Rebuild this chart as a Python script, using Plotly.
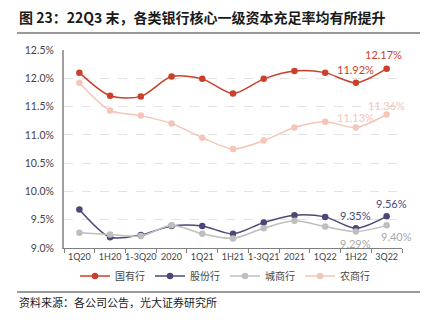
import plotly.graph_objects as go

categories = ["1Q20", "1H20", "1-3Q20", "2020", "1Q21", "1H21", "1-3Q21", "2021", "1Q22", "1H22", "3Q22"]
guoyou = [12.10, 11.69, 11.68, 12.03, 11.99, 11.73, 11.99, 12.13, 12.10, 11.92, 12.17]
gufen = [9.68, 9.19, 9.23, 9.39, 9.39, 9.25, 9.45, 9.58, 9.55, 9.35, 9.56]
chengshang = [9.27, 9.24, 9.21, 9.40, 9.25, 9.17, 9.35, 9.48, 9.38, 9.29, 9.40]
nongshang = [11.92, 11.43, 11.34, 11.20, 10.95, 10.75, 10.90, 11.13, 11.23, 11.13, 11.36]

names = ["国有行", "股份行", "城商行", "农商行"]
colors = ["#C9412B", "#4B4878", "#BEBEBE", "#F5C5B8"]
series = [guoyou, gufen, chengshang, nongshang]

NUM_FONT = "Lato, 'Liberation Sans', sans-serif"
CJK_FONT = "'Noto Sans CJK SC', sans-serif"

fig = go.Figure()
for name, col, vals in zip(names, colors, series):
    fig.add_trace(go.Scatter(
        x=categories, y=vals, name=name, mode="lines+markers",
        line=dict(color=col, width=1.5, shape="spline", smoothing=0.8),
        marker=dict(color=col, size=6.5),
    ))

# data labels: (series index, category index, xshift, yshift)
label_specs = [
    (0, 10, -3, 14), (0, 9, 0, 13),
    (3, 10, 0, 9), (3, 9, 0, 10.5),
    (1, 9, 0, 13), (1, 10, 5, 13),
    (2, 9, 0, -12), (2, 10, 10, -11),
]
annotations = []
for si, ci, xs, ys in label_specs:
    v = series[si][ci]
    annotations.append(dict(
        x=categories[ci], y=v, xref="x", yref="y",
        text=f"{v:.2f}%", showarrow=False, xshift=xs, yshift=ys,
        font=dict(family=NUM_FONT, size=11, color=colors[si] if si != 2 else "#A8A8A8"),
    ))

W, H = 429, 324
L, R, T, B = 64, 27, 50, 76
pw, ph = W - L - R, H - T - B

def px(x):
    return (x - L) / pw

def py(y):
    return (H - B - y) / ph

annotations.append(dict(
    x=px(17), y=py(17), xref="paper", yref="paper", xanchor="left", yanchor="middle",
    text="<b>图 23：22Q3 末，各类银行核心一级资本充足率均有所提升</b>", showarrow=False,
    font=dict(family=CJK_FONT, size=14, color="#1a1a1a"),
))
annotations.append(dict(
    x=px(17), y=py(302), xref="paper", yref="paper", xanchor="left", yanchor="middle",
    text="资料来源：各公司公告，光大证券研究所", showarrow=False,
    font=dict(family=CJK_FONT, size=11, color="#1a1a1a"),
))

shapes = [
    dict(type="line", xref="paper", yref="paper", x0=px(17), x1=px(420), y0=py(33), y1=py(33),
         line=dict(color="#333333", width=1)),
    dict(type="line", xref="paper", yref="paper", x0=px(17), x1=px(420), y0=py(292), y1=py(292),
         line=dict(color="#333333", width=1)),
]

fig.update_layout(
    width=W, height=H, autosize=False,
    margin=dict(l=L, r=R, t=T, b=B, autoexpand=False),
    paper_bgcolor="white", plot_bgcolor="white",
    showlegend=True,
    legend=dict(orientation="h", x=px(225), xanchor="center", y=py(276), yanchor="middle",
                font=dict(family=CJK_FONT, size=10, color="#444444"),
                itemwidth=30, tracegroupgap=0, bgcolor="rgba(0,0,0,0)"),
    annotations=annotations, shapes=shapes,
)
fig.update_xaxes(
    type="category", range=[-0.5, 10.5], showgrid=False,
    showline=True, linecolor="#808080", linewidth=1,
    ticks="outside", tickson="boundaries", ticklen=4, tickcolor="#808080",
    tickangle=0,
    tickfont=dict(family=NUM_FONT, size=9, color="#444444"),
)
fig.update_yaxes(
    range=[9.0, 12.5], dtick=0.5, tickformat=".1f", ticksuffix="%",
    showgrid=True, gridcolor="#E2E2E2", griddash="dash", gridwidth=1,
    showline=True, linecolor="#A0A0A0", linewidth=2,
    zeroline=False, ticks="", ticklabelstandoff=6,
    tickfont=dict(family=NUM_FONT, size=10.5, color="#444444"),
)

fig.write_html("out.html")
